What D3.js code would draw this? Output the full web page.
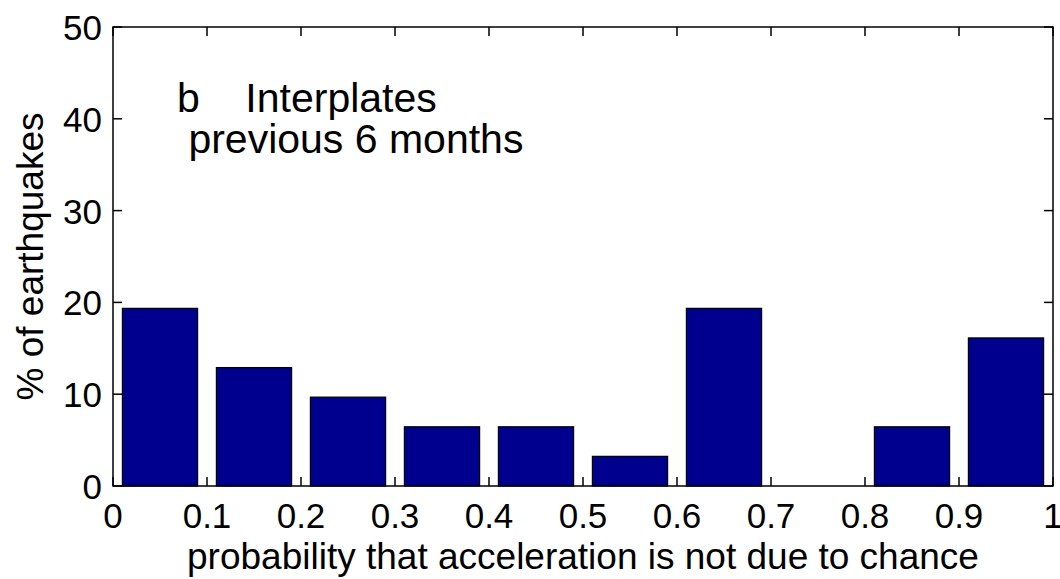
<!DOCTYPE html>
<html>
<head>
<meta charset="utf-8">
<script src="https://cdn.jsdelivr.net/npm/d3@7"></script>
<style>
  body { margin: 0; background: #fff; }
  text { font-family: "Liberation Sans", Arial, sans-serif; fill: #000; }
</style>
</head>
<body>
<script>
// histogram bins (bin centres) and % of earthquakes
var binCenters = [0.05, 0.15, 0.25, 0.35, 0.45, 0.55, 0.65, 0.75, 0.85, 0.95];
var percents = [19.35, 12.9, 9.68, 6.45, 6.45, 3.23, 19.35, 0, 6.45, 16.13];
var xTicks = [0, 0.1, 0.2, 0.3, 0.4, 0.5, 0.6, 0.7, 0.8, 0.9, 1];
var yTicks = [0, 10, 20, 30, 40, 50];
var annotation = ["b    Interplates", " previous 6 months"];

function draw() {
    var w = 1060, h = 579;
    var mLeft = 113, mRight = 1053, mTop = 27, mBottom = 486;

    var svg = d3.select("body").append("svg")
        .attr("width", w)
        .attr("height", h);

    var x = d3.scaleLinear().domain([0, 1]).range([mLeft, mRight]);
    var y = d3.scaleLinear().domain([0, 50]).range([mBottom, mTop]);
    var barW = 0.08;

    // bars
    svg.selectAll("rect.bar")
        .data(binCenters)
        .enter()
        .append("rect")
        .attr("class", "bar")
        .attr("x", function(d) { return x(d - barW / 2); })
        .attr("width", function(d) { return x(d + barW / 2) - x(d - barW / 2); })
        .attr("y", function(d, i) { return y(percents[i]); })
        .attr("height", function(d, i) { return y(0) - y(percents[i]); })
        .attr("fill", "#00008F")
        .attr("stroke", "#000")
        .attr("stroke-width", 1.2);

    // ticks pointing inward, on all four sides
    var tickLen = 9;
    var axes = svg.append("g").attr("stroke", "#000").attr("stroke-width", 1.5);

    xTicks.forEach(function(t) {
        axes.append("line").attr("x1", x(t)).attr("x2", x(t)).attr("y1", mBottom).attr("y2", mBottom - tickLen);
        axes.append("line").attr("x1", x(t)).attr("x2", x(t)).attr("y1", mTop).attr("y2", mTop + tickLen);
    });
    yTicks.forEach(function(t) {
        axes.append("line").attr("x1", mLeft).attr("x2", mLeft + tickLen).attr("y1", y(t)).attr("y2", y(t));
        axes.append("line").attr("x1", mRight).attr("x2", mRight - tickLen).attr("y1", y(t)).attr("y2", y(t));
    });

    // frame
    svg.append("rect")
        .attr("x", mLeft).attr("y", mTop)
        .attr("width", mRight - mLeft).attr("height", mBottom - mTop)
        .attr("fill", "none")
        .attr("stroke", "#000")
        .attr("stroke-width", 1.5);

    // tick labels
    svg.selectAll("text.xt")
        .data(xTicks)
        .enter()
        .append("text")
        .attr("class", "xt")
        .attr("x", function(d) { return x(d); })
        .attr("y", 528)
        .attr("text-anchor", "middle")
        .style("font-size", "35px")
        .text(function(d) { return d3.format("~g")(d); });

    svg.selectAll("text.yt")
        .data(yTicks)
        .enter()
        .append("text")
        .attr("class", "yt")
        .attr("x", 102)
        .attr("y", function(d) { return y(d) + 13; })
        .attr("text-anchor", "end")
        .style("font-size", "35px")
        .text(function(d) { return d; });

    // axis labels
    svg.append("text")
        .attr("x", (mLeft + mRight) / 2)
        .attr("y", 569)
        .attr("text-anchor", "middle")
        .style("font-size", "37px")
        .text("probability that acceleration is not due to chance");

    svg.append("text")
        .attr("transform", "translate(43," + ((mTop + mBottom) / 2) + ") rotate(-90)")
        .attr("text-anchor", "middle")
        .style("font-size", "37px")
        .text("% of earthquakes");

    // annotation
    svg.selectAll("text.note")
        .data(annotation)
        .enter()
        .append("text")
        .attr("class", "note")
        .attr("x", 177)
        .attr("y", function(d, i) { return 112 + i * 41; })
        .style("font-size", "41px")
        .style("white-space", "pre")
        .attr("xml:space", "preserve")
        .text(function(d) { return d; });
}

draw();
</script>
</body>
</html>
